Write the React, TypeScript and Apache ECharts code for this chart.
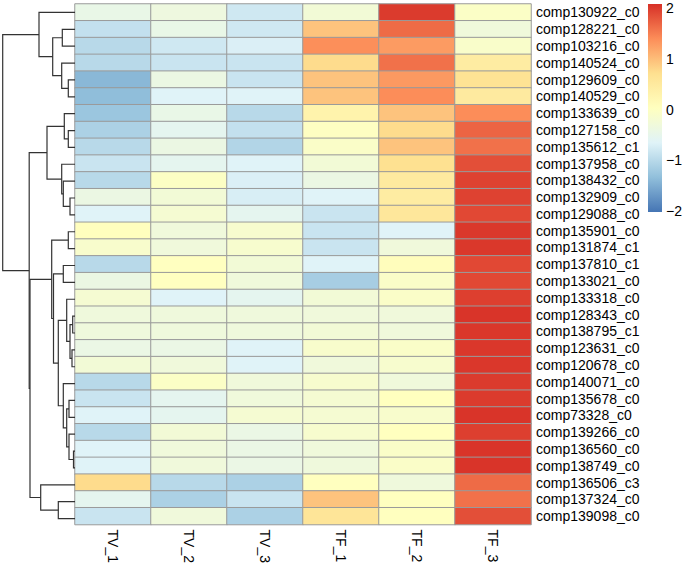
import React, { useEffect, useRef } from "react";
import * as echarts from "echarts";

const rowNames = [
  "comp130922_c0", "comp128221_c0", "comp103216_c0", "comp140524_c0", "comp129609_c0",
  "comp140529_c0", "comp133639_c0", "comp127158_c0", "comp135612_c1", "comp137958_c0",
  "comp138432_c0", "comp132909_c0", "comp129088_c0", "comp135901_c0", "comp131874_c1",
  "comp137810_c1", "comp133021_c0", "comp133318_c0", "comp128343_c0", "comp138795_c1",
  "comp123631_c0", "comp120678_c0", "comp140071_c0", "comp135678_c0", "comp73328_c0",
  "comp139266_c0", "comp136560_c0", "comp138749_c0", "comp136506_c3", "comp137324_c0",
  "comp139098_c0",
];
const colNames = ["TV_1", "TV_2", "TV_3", "TF_1", "TF_2", "TF_3"];

const TV_1 = [-0.45, -0.9, -1.0, -1.0, -1.4, -1.35, -1.25, -1.1, -1.0, -0.85, -1.0, -0.4, -0.65, 0.05, -0.12, -1.0, -0.4, -0.2, -0.32, -0.32, -0.42, -0.25, -1.0, -0.85, -0.65, -1.0, -0.65, -0.65, 0.75, -0.55, -0.85];
const TV_2 = [-0.35, -0.45, -0.8, -0.85, -0.4, -0.65, -0.45, -0.55, -0.4, -0.55, -0.03, -0.25, -0.2, -0.3, -0.3, 0.02, 0.02, -0.65, -0.32, -0.32, -0.42, -0.3, -0.05, -0.55, -0.55, -0.25, -0.3, -0.3, -1.0, -1.1, -0.3];
const TV_3 = [-0.8, -0.8, -0.7, -0.85, -0.85, -0.65, -1.0, -0.9, -1.05, -0.65, -0.7, -0.72, -0.55, -0.15, -0.15, -0.25, -0.3, -0.55, -0.32, -0.32, -0.65, -0.65, -0.3, -0.3, -0.2, -0.42, -0.42, -0.42, -1.1, -0.85, -1.1];
const TF_1 = [-0.25, 0.95, 1.38, 0.75, 0.95, 0.95, 0.3, 0.0, -0.08, -0.25, -0.4, -0.65, -0.85, -0.85, -0.85, -0.65, -1.15, -0.25, -0.3, -0.25, -0.12, -0.3, -0.15, -0.2, -0.2, -0.15, -0.3, -0.32, 0.03, 0.95, 0.6];
const TF_2 = [2.0, 1.65, 1.28, 1.6, 1.3, 1.4, 0.95, 0.75, 0.95, 0.7, 0.5, 0.45, 0.55, -0.65, -0.3, 0.08, -0.08, -0.08, -0.3, -0.3, -0.08, -0.15, -0.3, 0.03, -0.12, 0.03, -0.08, -0.08, -0.32, 0.03, 0.03];
const TF_3 = [-0.05, -0.3, -0.1, 0.45, 0.65, 0.5, 1.4, 1.7, 1.6, 1.85, 1.95, 1.95, 1.9, 2.02, 2.02, 1.9, 1.9, 1.97, 2.05, 2.03, 2.03, 2.03, 2.0, 2.0, 2.05, 1.97, 2.05, 2.05, 1.65, 1.6, 1.85];
const columns = [TV_1, TV_2, TV_3, TF_1, TF_2, TF_3];

// hierarchical clustering merges: [left, right, height]; numbers = row index, "nK" = K-th merge
const merges: [number | string, number | string, number][] = [
  [4, 5, 6.7], [1, 2, 12.7], [3, "n0", 13.3], ["n1", "n2", 22.3], [0, "n3", 36],
  [7, 8, 6.7], [6, "n5", 10.7], [11, 12, 5], [10, "n7", 11.7], [9, "n8", 13.3],
  ["n6", "n9", 28], [13, 14, 6.7], [15, 16, 11.7], [18, 19, 2.3], [20, 21, 3],
  ["n13", "n14", 5], [17, "n15", 8.3], [26, 27, 1.5], [25, "n17", 6], [23, 24, 6],
  ["n19", "n18", 8.3], [22, "n20", 11.7], ["n16", "n21", 16.7], ["n12", "n22", 21.5], ["n11", "n23", 23.3],
  [29, 30, 16.7], [28, "n25", 34.3], ["n24", "n26", 45], ["n10", "n27", 45.8], ["n4", "n28", 72.3],
];

const palette = ["#4575B4", "#91BFDB", "#E0F3F8", "#FFFFBF", "#FEE090", "#FC8D59", "#D73027"];
const scaleMin = -2.02;
const scaleMax = 2.08;
const legendTicks = [2, 1, 0, -1, -2];

const FONT = "'Liberation Sans', Arial, Helvetica, sans-serif";

export default function App() {
  const ref = useRef<HTMLDivElement>(null);
  useEffect(() => {
    if (!ref.current) return;
    const chart = echarts.init(ref.current, undefined, { renderer: "svg" });

    const heatData: number[][] = [];
    columns.forEach((col, ci) => col.forEach((v, ri) => heatData.push([ci, ri, v])));

    const nodePos: { y: number; h: number }[] = [];
    const pos = (c: number | string) =>
      typeof c === "number" ? { y: c, h: 0 } : nodePos[parseInt(c.slice(1), 10)];
    const dendroData: number[][] = merges.map(([a, b, h]) => {
      const pa = pos(a);
      const pb = pos(b);
      nodePos.push({ y: (pa.y + pb.y) / 2, h });
      return [h, pa.y, pb.y, pa.h, pb.h];
    });

    const barTop = 4;
    const barH = 208;
    const barX = 648;
    const yOf = (v: number) => barTop + ((scaleMax - v) / (scaleMax - scaleMin)) * barH;
    const stops = palette
      .slice()
      .reverse()
      .map((c, i) => ({ offset: i / (palette.length - 1), color: c }));

    const graphic: any[] = [
      {
        type: "rect",
        shape: { x: barX, y: barTop, width: 14, height: barH },
        style: { fill: new echarts.graphic.LinearGradient(0, 0, 0, 1, stops) },
        silent: true,
      },
      ...legendTicks.map((t) => ({
        type: "text",
        x: 666,
        y: yOf(t),
        style: {
          text: t < 0 ? "\u2212" + Math.abs(t) : String(t),
          fontSize: 14,
          fontFamily: FONT,
          fill: "#000",
          verticalAlign: "middle",
          align: "left",
        },
        silent: true,
      })),
    ];

    chart.setOption({
      animation: false,
      backgroundColor: "#ffffff",
      grid: [
        { left: 75, top: 4, width: 456, height: 523 },
        { left: 0, top: 4, width: 75, height: 523 },
      ],
      xAxis: [
        {
          type: "category",
          gridIndex: 0,
          data: colNames,
          position: "bottom",
          axisLine: { show: false },
          axisTick: { show: false },
          splitLine: { show: false },
          axisLabel: { interval: 0, rotate: -90, margin: 5, fontSize: 14, color: "#000", fontFamily: FONT },
        },
        { type: "value", gridIndex: 1, min: 0, max: 75, inverse: true, show: false },
      ],
      yAxis: [
        {
          type: "category",
          gridIndex: 0,
          data: rowNames,
          inverse: true,
          position: "right",
          axisLine: { show: false },
          axisTick: { show: false },
          splitLine: { show: false },
          axisLabel: { interval: 0, margin: 5, fontSize: 14, color: "#000", fontFamily: FONT },
        },
        { type: "value", gridIndex: 1, min: -0.5, max: 30.5, inverse: true, show: false },
      ],
      visualMap: {
        show: false,
        type: "continuous",
        min: scaleMin,
        max: scaleMax,
        seriesIndex: 0,
        dimension: 2,
        inRange: { color: palette },
      },
      series: [
        {
          type: "heatmap",
          xAxisIndex: 0,
          yAxisIndex: 0,
          data: heatData,
          itemStyle: { borderColor: "#9a9a9a", borderWidth: 1 },
          emphasis: { disabled: true },
          silent: true,
        },
        {
          type: "custom",
          xAxisIndex: 1,
          yAxisIndex: 1,
          data: dendroData,
          encode: { x: [0, 3, 4], y: [1, 2] },
          silent: true,
          renderItem: (params: any, api: any) => {
            const h = api.value(0);
            const yL = api.value(1);
            const yR = api.value(2);
            const hL = api.value(3);
            const hR = api.value(4);
            const pts = [
              api.coord([hL, yL]),
              api.coord([h, yL]),
              api.coord([h, yR]),
              api.coord([hR, yR]),
            ];
            return {
              type: "polyline",
              shape: { points: pts },
              style: { stroke: "#333333", lineWidth: 1.2, fill: "none" },
            };
          },
        },
      ],
      graphic,
    });

    return () => chart.dispose();
  }, []);

  return (
    <div
      ref={ref}
      style={{ position: "fixed", left: 0, top: 0, width: 685, height: 566, background: "#fff" }}
    />
  );
}
